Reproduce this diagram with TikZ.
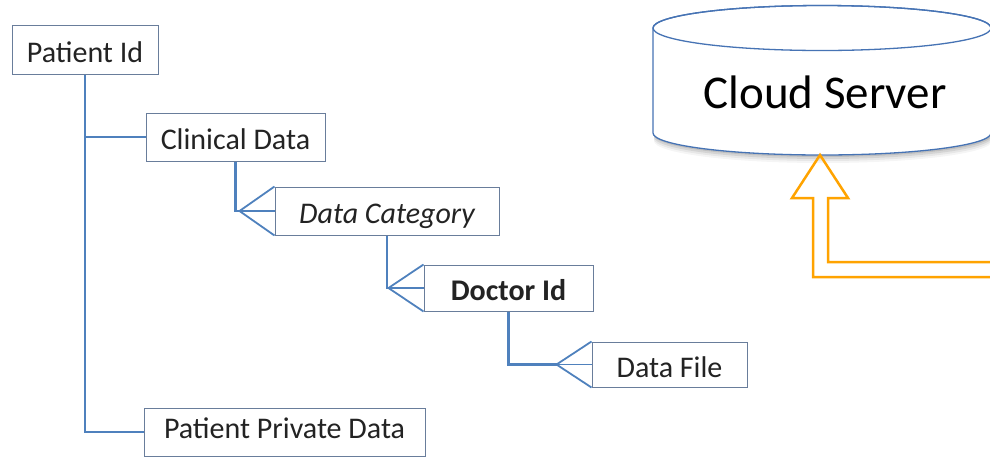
\documentclass[tikz,border=0pt]{standalone}
\usepackage{fontspec}
\setmainfont{Carlito}
\definecolor{boxline}{RGB}{105,125,155}
\definecolor{conn}{RGB}{79,129,189}
\definecolor{arrorange}{RGB}{255,163,0}
\definecolor{txt}{RGB}{35,35,35}
\definecolor{cylline}{RGB}{70,115,180}
\begin{document}
\begin{tikzpicture}[x=1pt,y=-1pt,
  entity/.style={draw=boxline, line width=1pt, fill=white, inner sep=0pt,
    text=txt, font=\fontsize{30}{36}\selectfont, minimum height=48pt,
    text height=25pt, text depth=0pt},
  link/.style={draw=conn, line width=2.3pt},
  crow/.style={draw=conn, line width=1.8pt},
  hollowarrow/.style={draw=arrorange, line width=2.5pt, line join=miter}]
\useasboundingbox (0,0) rectangle (990,456);

% cylinder shadow
\foreach \o/\op in {2/0.10,4/0.08,6/0.06,8/0.04} {
  \fill[black, opacity=\op] (654,{28+\o}) -- (654,{133+\o})
    arc[start angle=180, end angle=0, x radius=169, y radius=22] -- (992,{28+\o}) -- cycle;
}
% cylinder body
\filldraw[draw=cylline, fill=white, line width=1.3pt]
  (653,28) -- (653,133) arc[start angle=180, end angle=0, x radius=169, y radius=22]
  -- (991,28) arc[start angle=0, end angle=-180, x radius=169, y radius=22.5] -- cycle;
\draw[draw=cylline, line width=1.3pt] (822,28) ellipse[x radius=169, y radius=22.5];
\node[anchor=base, font=\fontsize{47}{56}\selectfont, text=black, inner sep=0pt] (cloud) at (825,108) {Cloud Server};
\coordinate (cylbot) at (820,155);

% hollow elbow arrow
\draw[hollowarrow] (1000,262) -- (828,262) -- (828,198) -- (848,198) -- (cylbot)
  -- (792,198) -- (813,198) -- (813,277) -- (1000,277);

% entities
\node[entity, minimum width=146pt, minimum height=49pt] (pid) at (85,49.5) {Patient Id};
\node[entity, minimum width=179pt] (clin) at (235.5,137) {Clinical Data};
\node[entity, minimum width=224pt, font=\fontsize{30}{36}\selectfont\itshape] (cat) at (387,211) {Data Category};
\node[entity, minimum width=169pt, minimum height=46pt, font=\fontsize{30}{36}\selectfont\bfseries] (doc) at (508.5,288) {Doctor Id};
\node[entity, minimum width=155pt, minimum height=45pt] (file) at (669.5,364.5) {Data File};
\node[entity, minimum width=281pt, text height=19pt, text depth=6pt] (ppd) at (284.5,432) {Patient Private Data};

% connectors
\coordinate (catc) at ([xshift=-35pt]cat.west);
\coordinate (docc) at ([xshift=-35pt]doc.west);
\coordinate (filec) at ([xshift=-35pt]file.west);

\draw[link] (pid.south) |- (ppd.west);
\draw[link] (pid.south |- clin.west) -- (clin.west);
\draw[link] (clin.south) |- (catc);
\draw[link] (cat.south) |- (docc);
\draw[link] (doc.south) |- (filec);

\draw[crow] (cat.north west) -- (catc) -- (cat.south west);
\draw[crow] (catc) -- (cat.west);
\draw[crow] (doc.north west) -- (docc) -- (doc.south west);
\draw[crow] (docc) -- (doc.west);
\draw[crow] (file.north west) -- (filec) -- (file.south west);
\draw[crow] (filec) -- (file.west);
\end{tikzpicture}
\end{document}
